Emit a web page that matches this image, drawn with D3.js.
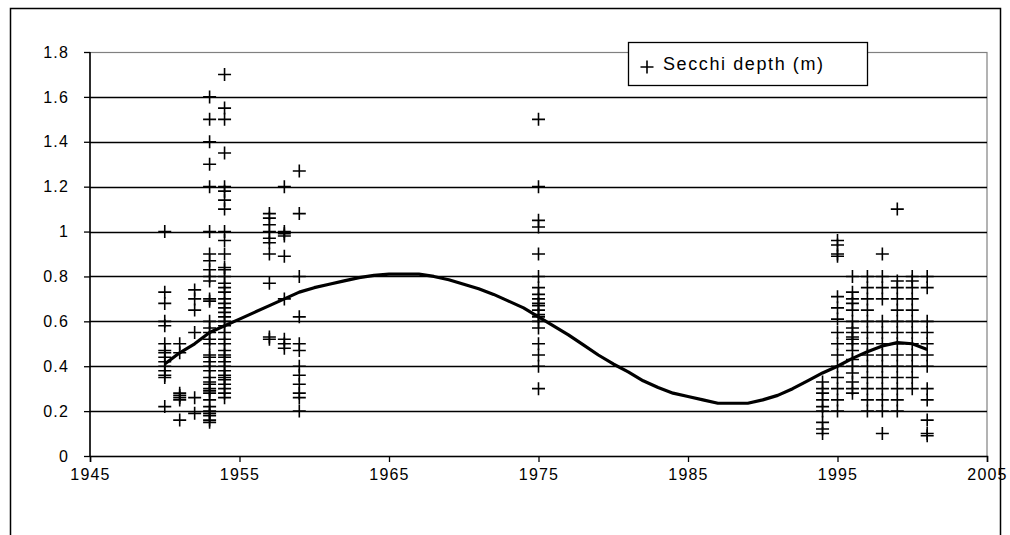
<!DOCTYPE html>
<html>
<head>
<meta charset="utf-8">
<script src="https://cdnjs.cloudflare.com/ajax/libs/d3/7.8.5/d3.min.js"></script>
<style>
  body { margin: 0; background: #fff; }
  svg { display: block; font-family: "Liberation Sans", Arial, sans-serif; }
  .tick text { font-size: 16px; letter-spacing: 1.2px; fill: #000; }
</style>
</head>
<body>
<div id="chart"></div>
<script>
// sampling years with the Secchi readings (m) taken in each one
const sampleYears = [1950, 1951, 1952, 1953, 1954, 1957, 1958, 1959, 1975,
  1994, 1995, 1996, 1997, 1998, 1999, 2000, 2001];

const secchiByYear = [
  [1.0, 0.73, 0.68, 0.6, 0.58, 0.5, 0.47, 0.46, 0.44, 0.42, 0.4, 0.38, 0.36, 0.35, 0.22],
  [0.5, 0.46, 0.28, 0.27, 0.26, 0.25, 0.16],
  [0.74, 0.7, 0.65, 0.55, 0.26, 0.19],
  [1.6, 1.5, 1.4, 1.3, 1.2, 1.0, 0.9, 0.87, 0.83, 0.8, 0.78, 0.7, 0.69, 0.6, 0.57, 0.55,
    0.52, 0.5, 0.45, 0.44, 0.42, 0.4, 0.38, 0.35, 0.33, 0.32, 0.3, 0.29, 0.28, 0.25,
    0.22, 0.2, 0.19, 0.18, 0.16, 0.15],
  [1.7, 1.55, 1.5, 1.35, 1.2, 1.18, 1.14, 1.1, 1.0, 0.96, 0.9, 0.84, 0.83, 0.8, 0.77,
    0.75, 0.73, 0.7, 0.68, 0.66, 0.64, 0.62, 0.6, 0.58, 0.55, 0.52, 0.5, 0.47, 0.45,
    0.44, 0.42, 0.4, 0.38, 0.36, 0.35, 0.34, 0.32, 0.3, 0.28, 0.26],
  [1.08, 1.06, 1.03, 1.0, 0.97, 0.95, 0.9, 0.77, 0.53, 0.52],
  [1.2, 1.0, 0.99, 0.98, 0.89, 0.7, 0.52, 0.5, 0.48],
  [1.27, 1.08, 0.8, 0.62, 0.5, 0.47, 0.4, 0.36, 0.32, 0.28, 0.26, 0.2],
  [1.5, 1.2, 1.05, 1.02, 0.9, 0.8, 0.75, 0.72, 0.7, 0.68, 0.67, 0.65, 0.63, 0.62, 0.6,
    0.57, 0.5, 0.45, 0.4, 0.3],
  [0.33, 0.3, 0.28, 0.25, 0.22, 0.2, 0.15, 0.12, 0.1],
  [0.96, 0.94, 0.9, 0.89, 0.71, 0.66, 0.61, 0.55, 0.5, 0.45, 0.4, 0.35, 0.3, 0.25, 0.2],
  [0.8, 0.73, 0.7, 0.68, 0.65, 0.6, 0.57, 0.55, 0.53, 0.52, 0.5, 0.47, 0.43, 0.4,
    0.37, 0.33, 0.3, 0.28],
  [0.8, 0.75, 0.7, 0.65, 0.6, 0.55, 0.5, 0.45, 0.4, 0.35, 0.3, 0.25, 0.2],
  [0.9, 0.8, 0.75, 0.7, 0.6, 0.55, 0.5, 0.45, 0.4, 0.35, 0.3, 0.25, 0.2, 0.1],
  [1.1, 0.78, 0.75, 0.7, 0.65, 0.6, 0.55, 0.5, 0.45, 0.4, 0.35, 0.3, 0.25, 0.2],
  [0.8, 0.78, 0.75, 0.7, 0.65, 0.6, 0.55, 0.5, 0.45, 0.4, 0.35, 0.3],
  [0.8, 0.75, 0.6, 0.55, 0.5, 0.45, 0.4, 0.3, 0.25, 0.16, 0.1, 0.09]
];

// smoothed trend line
const trendYears = d3.range(1950, 2002);
const trendValues = [0.41, 0.46, 0.50, 0.55, 0.58, 0.61, 0.64, 0.67, 0.70, 0.73,
  0.75, 0.765, 0.78, 0.795, 0.805, 0.81, 0.81, 0.81, 0.80, 0.785,
  0.765, 0.745, 0.72, 0.69, 0.66, 0.62, 0.58, 0.54, 0.495, 0.45,
  0.41, 0.375, 0.335, 0.305, 0.28, 0.265, 0.25, 0.235, 0.235, 0.235,
  0.25, 0.27, 0.30, 0.335, 0.37, 0.40, 0.435, 0.465, 0.49, 0.505,
  0.50, 0.475];

const xTicks = [1945, 1955, 1965, 1975, 1985, 1995, 2005];
const yTicks = [0, 0.2, 0.4, 0.6, 0.8, 1, 1.2, 1.4, 1.6, 1.8];
const legendLabel = "Secchi depth (m)";

const W = 1010, H = 535;
const margin = {left: 90, top: 52, right: 23, bottom: 79};
const width = W - margin.left - margin.right,
  height = H - margin.top - margin.bottom;

const x = d3.scaleLinear().domain([1945, 2005]).range([0, width]);
const y = d3.scaleLinear().domain([0, 1.8]).range([height, 0]);

const svg = d3.select("#chart").append("svg")
  .attr("width", W)
  .attr("height", H);

// outer chart frame
svg.append("rect")
  .attr("x", 10.5).attr("y", 8.5)
  .attr("width", 990).attr("height", 530)
  .attr("fill", "none").attr("stroke", "#000").attr("stroke-width", 1.5);

const g = svg.append("g")
  .attr("transform", "translate(" + margin.left + "," + margin.top + ")");

// plot area border (grey)
g.append("rect")
  .attr("x", 0).attr("y", 0.5)
  .attr("width", width).attr("height", height)
  .attr("fill", "none").attr("stroke", "#808080").attr("stroke-width", 1.2);

// horizontal gridlines
g.append("g")
  .selectAll("line")
  .data(yTicks.filter(d => d > 0 && d < 1.8))
  .join("line")
  .attr("x1", 0).attr("x2", width)
  .attr("y1", d => Math.round(y(d)) + 0.5)
  .attr("y2", d => Math.round(y(d)) + 0.5)
  .attr("stroke", "#000").attr("stroke-width", 1.3);

// axes
const yAxis = d3.axisLeft(y).tickValues(yTicks).tickSize(6).tickPadding(15)
  .tickFormat(d3.format("~g"));
const xAxis = d3.axisBottom(x).tickValues(xTicks).tickSize(6).tickPadding(7)
  .tickFormat(d3.format("d"));

const gY = g.append("g").call(yAxis);
const gX = g.append("g").attr("transform", "translate(0," + height + ")").call(xAxis);

[gY, gX].forEach(a => {
  a.select(".domain").attr("stroke", "#000").attr("stroke-width", 1.5);
  a.selectAll(".tick line").attr("stroke", "#000").attr("stroke-width", 1.3);
  a.selectAll(".tick text").attr("font-family", null).attr("font-size", null);
});
gY.select(".domain").attr("d", "M0," + height + "V0");

// scatter of '+' markers
const plus = "M-6.5,0H6.5M0,-6.5V6.5";
const points = [];
sampleYears.forEach((yr, i) => {
  secchiByYear[i].forEach(v => points.push({year: yr, value: v}));
});

g.append("g")
  .selectAll("path")
  .data(points)
  .join("path")
  .attr("d", plus)
  .attr("transform", d => "translate(" + x(d.year) + "," + y(d.value) + ")")
  .attr("fill", "none").attr("stroke", "#000").attr("stroke-width", 1.6);

// trend line
const line = d3.line()
  .x((d, i) => x(trendYears[i]))
  .y(d => y(d));

g.append("path")
  .attr("d", line(trendValues))
  .attr("fill", "none")
  .attr("stroke", "#000")
  .attr("stroke-width", 3.2)
  .attr("stroke-linejoin", "round");

// legend
const legend = svg.append("g").attr("transform", "translate(628,42)");
legend.append("rect")
  .attr("x", 0.5).attr("y", 0.5)
  .attr("width", 239).attr("height", 43)
  .attr("fill", "#fff").attr("stroke", "#000").attr("stroke-width", 1.3);
legend.append("path")
  .attr("d", plus)
  .attr("transform", "translate(19,25)")
  .attr("fill", "none").attr("stroke", "#000").attr("stroke-width", 1.6);
legend.append("text")
  .attr("x", 35).attr("y", 28)
  .attr("font-size", 18)
  .attr("letter-spacing", "1.6px")
  .text(legendLabel);
</script>
</body>
</html>
